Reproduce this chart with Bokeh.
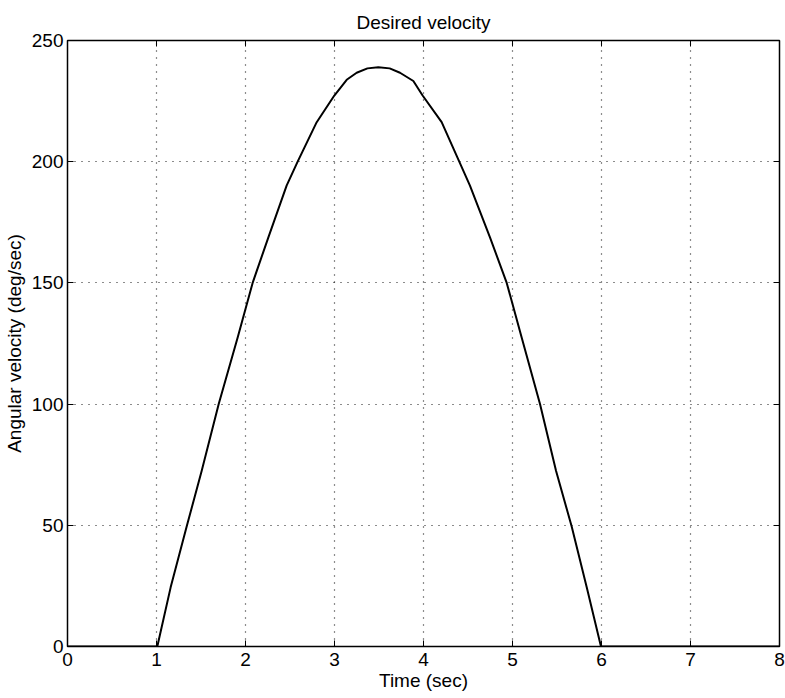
from bokeh.plotting import figure
from bokeh.models import LinearAxis, FixedTicker, Range1d
from bokeh.embed import file_html
from bokeh.resources import INLINE

# Data
time_sec = [0.0, 1.0, 1.009, 1.159, 1.339, 1.508, 1.699, 1.912, 2.08, 2.257,
            2.462, 2.586, 2.80, 2.998, 3.137, 3.249, 3.37, 3.492, 3.62, 3.736,
            3.886, 3.99, 4.204, 4.402, 4.522, 4.747, 4.935, 5.103, 5.309,
            5.489, 5.665, 5.834, 5.994, 8.0]
velocity = [0, 0, 0, 24.4, 49.5, 72.5, 100, 127.5, 150, 168.8,
            190.1, 200, 216.3, 227.3, 233.8, 236.7, 238.5, 239.0, 238.5, 236.7,
            233.3, 227.3, 216.3, 200, 190.1, 168.8, 150, 127.5, 100,
            72.5, 49.5, 24.4, 0, 0]
x_ticks = [0, 1, 2, 3, 4, 5, 6, 7, 8]
y_ticks = [0, 50, 100, 150, 200, 250]

FONT = "Liberation Sans"
FS = "19px"

p = figure(width=785, height=698, output_backend="svg", toolbar_location=None,
           x_range=Range1d(0, 8), y_range=Range1d(0, 250),
           title="Desired velocity",
           min_border_left=67, min_border_right=6, min_border_top=40,
           min_border_bottom=52)

p.title.align = "center"
p.title.text_font = FONT
p.title.text_font_size = FS
p.title.text_font_style = "normal"
p.title.text_color = "black"
p.title.standoff = 16

p.outline_line_color = "black"
p.outline_line_width = 1.5
p.outline_line_alpha = 1.0

p.line(time_sec, velocity, line_color="black", line_width=2, line_join="round")

for ax, ticks in ((p.xaxis[0], x_ticks), (p.yaxis[0], y_ticks)):
    ax.ticker = FixedTicker(ticks=ticks)
    ax.major_tick_in = 6
    ax.major_tick_out = 0
    ax.minor_tick_line_color = None
    ax.major_tick_line_color = "black"
    ax.axis_line_color = "black"
    ax.major_label_text_font = FONT
    ax.major_label_text_font_size = FS
    ax.major_label_text_color = "black"
    ax.axis_label_text_font = FONT
    ax.axis_label_text_font_size = FS
    ax.axis_label_text_font_style = "normal"
    ax.axis_label_text_color = "black"

p.xaxis[0].axis_label = "Time (sec)"
p.yaxis[0].axis_label = "Angular velocity (deg/sec)"
p.xaxis[0].major_label_standoff = 6
p.xaxis[0].axis_label_standoff = 1
p.yaxis[0].major_label_standoff = 4
p.yaxis[0].axis_label_standoff = 4

# Mirror ticks on top and right
top = LinearAxis(ticker=FixedTicker(ticks=x_ticks))
right = LinearAxis(ticker=FixedTicker(ticks=y_ticks))
for ax in (top, right):
    ax.major_tick_in = 6
    ax.major_tick_out = 0
    ax.minor_tick_line_color = None
    ax.major_tick_line_color = "black"
    ax.axis_line_color = None
    ax.major_label_text_color = None
    ax.major_label_text_font_size = "1px"
    ax.major_label_standoff = 0
p.add_layout(top, "above")
p.add_layout(right, "right")

for g, ticks in ((p.xgrid[0], x_ticks), (p.ygrid[0], y_ticks)):
    g.ticker = FixedTicker(ticks=ticks)
    g.grid_line_color = "black"
    g.grid_line_dash = "1 6"
    g.grid_line_width = 1.2
    g.grid_line_alpha = 0.9

p.background_fill_color = "white"
p.border_fill_color = "white"

open("out.html", "w").write(file_html(p, INLINE))
